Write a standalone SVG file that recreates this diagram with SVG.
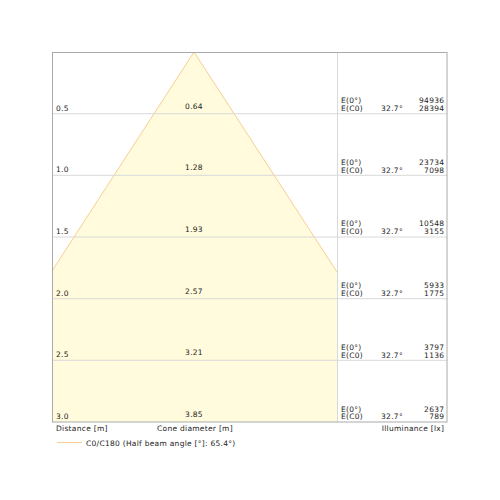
<svg xmlns="http://www.w3.org/2000/svg" width="500" height="500" viewBox="0 0 500 500">
<style>
text{font-family:"DejaVu Sans",sans-serif;font-size:7.5px;letter-spacing:0.28px;fill:#222}
.g{stroke:#d9d9d9;stroke-width:1;fill:none}
.r{text-anchor:end}
.m{text-anchor:middle}
</style>
<rect width="500" height="500" fill="#fff"/>
<g id="cone">
<polygon points="52,422 52,271 194,52 337,272 337,422" fill="#fffbdc"/>
<polyline points="52,271 194,52 337,272" fill="none" stroke="#f7cf93" stroke-width="1"/>
</g>
<g id="grid">
<line class="g" x1="52" y1="113.7" x2="447" y2="113.7"/>
<line class="g" x1="52" y1="175.3" x2="447" y2="175.3"/>
<line class="g" x1="52" y1="237" x2="447" y2="237"/>
<line class="g" x1="52" y1="298.7" x2="447" y2="298.7"/>
<line class="g" x1="52" y1="360.3" x2="447" y2="360.3"/>
<line class="g" x1="337.5" y1="52" x2="337.5" y2="422"/>
<rect x="52.5" y="52.5" width="394.5" height="369.5" fill="none" stroke="#aaa" stroke-width="1"/>
</g>
<g id="rows">
<text x="56" y="110.5">0.5</text><text class="m" x="194" y="108.5">0.64</text>
<text x="341" y="103">E(0°)</text><text x="341" y="111">E(C0)</text><text class="m" x="392" y="111">32.7°</text><text class="r" x="444.3" y="103">94936</text><text class="r" x="444.3" y="111">28394</text>
<text x="56" y="172.2">1.0</text><text class="m" x="194" y="170.2">1.28</text>
<text x="341" y="164.7">E(0°)</text><text x="341" y="172.7">E(C0)</text><text class="m" x="392" y="172.7">32.7°</text><text class="r" x="444.3" y="164.7">23734</text><text class="r" x="444.3" y="172.7">7098</text>
<text x="56" y="233.8">1.5</text><text class="m" x="194" y="231.8">1.93</text>
<text x="341" y="226.3">E(0°)</text><text x="341" y="234.3">E(C0)</text><text class="m" x="392" y="234.3">32.7°</text><text class="r" x="444.3" y="226.3">10548</text><text class="r" x="444.3" y="234.3">3155</text>
<text x="56" y="295.5">2.0</text><text class="m" x="194" y="293.5">2.57</text>
<text x="341" y="288">E(0°)</text><text x="341" y="296">E(C0)</text><text class="m" x="392" y="296">32.7°</text><text class="r" x="444.3" y="288">5933</text><text class="r" x="444.3" y="296">1775</text>
<text x="56" y="357">2.5</text><text class="m" x="194" y="355">3.21</text>
<text x="341" y="349.5">E(0°)</text><text x="341" y="357.5">E(C0)</text><text class="m" x="392" y="357.5">32.7°</text><text class="r" x="444.3" y="349.5">3797</text><text class="r" x="444.3" y="357.5">1136</text>
<text x="56" y="418.7">3.0</text><text class="m" x="194" y="416.7">3.85</text>
<text x="341" y="411.5">E(0°)</text><text x="341" y="419.3">E(C0)</text><text class="m" x="392" y="419.3">32.7°</text><text class="r" x="444.3" y="411.5">2637</text><text class="r" x="444.3" y="419.3">789</text>
</g>
<g id="labels">
<text x="56" y="431">Distance [m]</text>
<text x="157" y="431">Cone diameter [m]</text>
<text class="r" x="444.3" y="431">Illuminance [lx]</text>
<line x1="57" y1="442.5" x2="82" y2="442.5" stroke="#f7cf93" stroke-width="1"/>
<text x="86" y="445.5">C0/C180 (Half beam angle [°]: 65.4°)</text>
</g>
</svg>
